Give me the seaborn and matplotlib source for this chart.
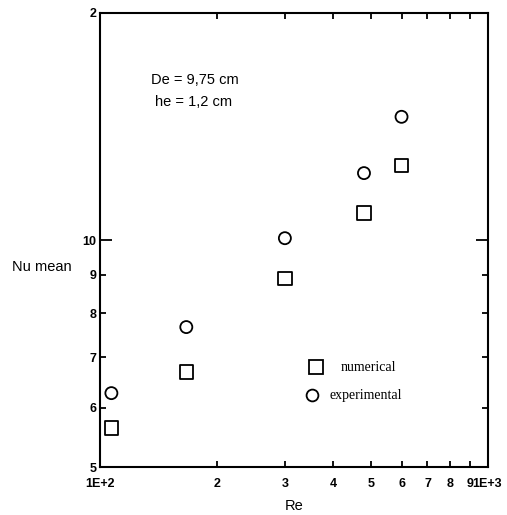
import numpy as np
import pandas as pd
import matplotlib
matplotlib.use("Agg")
import matplotlib.pyplot as plt
from matplotlib.lines import Line2D
from matplotlib.ticker import FixedLocator, FixedFormatter
import seaborn as sns

# ---- data ----
re_values = [107, 167, 300, 480, 600]
nu_numerical = [5.64, 6.69, 8.89, 10.86, 12.55]
nu_experimental = [6.27, 7.67, 10.06, 12.27, 14.57]

y_major = [5, 10, 20]
y_major_labels = ["5", "10", "2"]
y_minor = [6, 7, 8, 9]
y_minor_labels = ["6", "7", "8", "9"]
x_major = [100, 1000]
x_major_labels = ["1E+2", "1E+3"]
x_minor = [200, 300, 400, 500, 600, 700, 800, 900]
x_minor_labels = ["2", "3", "4", "5", "6", "7", "8", "9"]

df = pd.DataFrame({
    "Re": re_values * 2,
    "Nu": nu_numerical + nu_experimental,
    "kind": ["numerical"] * len(re_values) + ["experimental"] * len(re_values),
})

sns.set_style("white")
plt.rcParams["font.family"] = ["Liberation Sans", "DejaVu Sans"]
plt.rcParams["text.color"] = "black"
plt.rcParams["axes.labelcolor"] = "black"
plt.rcParams["xtick.color"] = "black"
plt.rcParams["ytick.color"] = "black"

fig = plt.figure(figsize=(5.07, 5.15), dpi=100)
ax = fig.add_axes([100 / 507, 1 - 467.3 / 515, 387.5 / 507, 454.3 / 515])

sns.scatterplot(data=df[df.kind == "numerical"], x="Re", y="Nu", marker="s",
                s=95, facecolor="none", edgecolor="black", linewidth=1.3, ax=ax, legend=False)
sns.scatterplot(data=df[df.kind == "experimental"], x="Re", y="Nu", marker="o",
                s=75, facecolor="none", edgecolor="black", linewidth=1.3, ax=ax, legend=False)

ax.set_xscale("log")
ax.set_yscale("log")
ax.set_xlim(100, 1000)
ax.set_ylim(5, 20)

ax.xaxis.set_major_locator(FixedLocator(x_major))
ax.xaxis.set_major_formatter(FixedFormatter(x_major_labels))
ax.xaxis.set_minor_locator(FixedLocator(x_minor))
ax.xaxis.set_minor_formatter(FixedFormatter(x_minor_labels))
ax.yaxis.set_major_locator(FixedLocator(y_major))
ax.yaxis.set_major_formatter(FixedFormatter(y_major_labels))
ax.yaxis.set_minor_locator(FixedLocator(y_minor))
ax.yaxis.set_minor_formatter(FixedFormatter(y_minor_labels))

for side in ["left", "right", "top", "bottom"]:
    ax.spines[side].set_visible(True)
    ax.spines[side].set_color("black")
    ax.spines[side].set_linewidth(1.5)

ax.tick_params(axis="both", which="both", direction="in", colors="black",
               top=True, right=True, bottom=True, left=True,
               labelbottom=True, labelleft=True, labeltop=False, labelright=False,
               width=1.3, labelsize=9)
ax.tick_params(axis="y", which="major", length=8.5, pad=2.5)
ax.tick_params(axis="y", which="minor", length=4.5, pad=2.5)
ax.tick_params(axis="x", which="major", length=8.5, pad=7.5)
ax.tick_params(axis="x", which="minor", length=4.5, pad=7.5)
for lab in ax.get_xticklabels(which="both") + ax.get_yticklabels(which="both"):
    lab.set_fontweight("bold")

ax.set_xlabel("Re", fontsize=10.5, color="black")
ax.xaxis.set_label_coords(0.5, -0.085)
ax.xaxis.label.set_va("center")
ax.set_ylabel("Nu mean", fontsize=10.5, rotation=0, ha="center", va="center", color="black")
ax.yaxis.set_label_coords(-0.1497, 0.441)

ax.text(0.1308, 0.8525, "De = 9,75 cm", transform=ax.transAxes, fontsize=10.5,
        ha="left", va="center", color="black")
ax.text(0.1419, 0.8048, "he = 1,2 cm", transform=ax.transAxes, fontsize=10.5,
        ha="left", va="center", color="black")

leg_font = {"family": ["Liberation Serif", "DejaVu Serif"], "size": 10}
h1 = Line2D([], [], marker="s", markersize=9.5, markerfacecolor="none",
            markeredgecolor="black", markeredgewidth=1.3, linestyle="none")
h2 = Line2D([], [], marker="o", markersize=8.5, markerfacecolor="none",
            markeredgecolor="black", markeredgewidth=1.3, linestyle="none")
leg1 = ax.legend([h1], ["numerical"], loc="center left", bbox_to_anchor=(0.507, 0.2186),
                 frameon=False, borderpad=0, borderaxespad=0, handlelength=2.8,
                 handletextpad=0.4, prop=leg_font, labelcolor="black")
ax.add_artist(leg1)
ax.legend([h2], ["experimental"], loc="center left", bbox_to_anchor=(0.518, 0.157),
          frameon=False, borderpad=0, borderaxespad=0, handlelength=1.65,
          handletextpad=0.4, prop=leg_font, labelcolor="black")

fig.savefig("out.png", dpi=100, facecolor="white")
